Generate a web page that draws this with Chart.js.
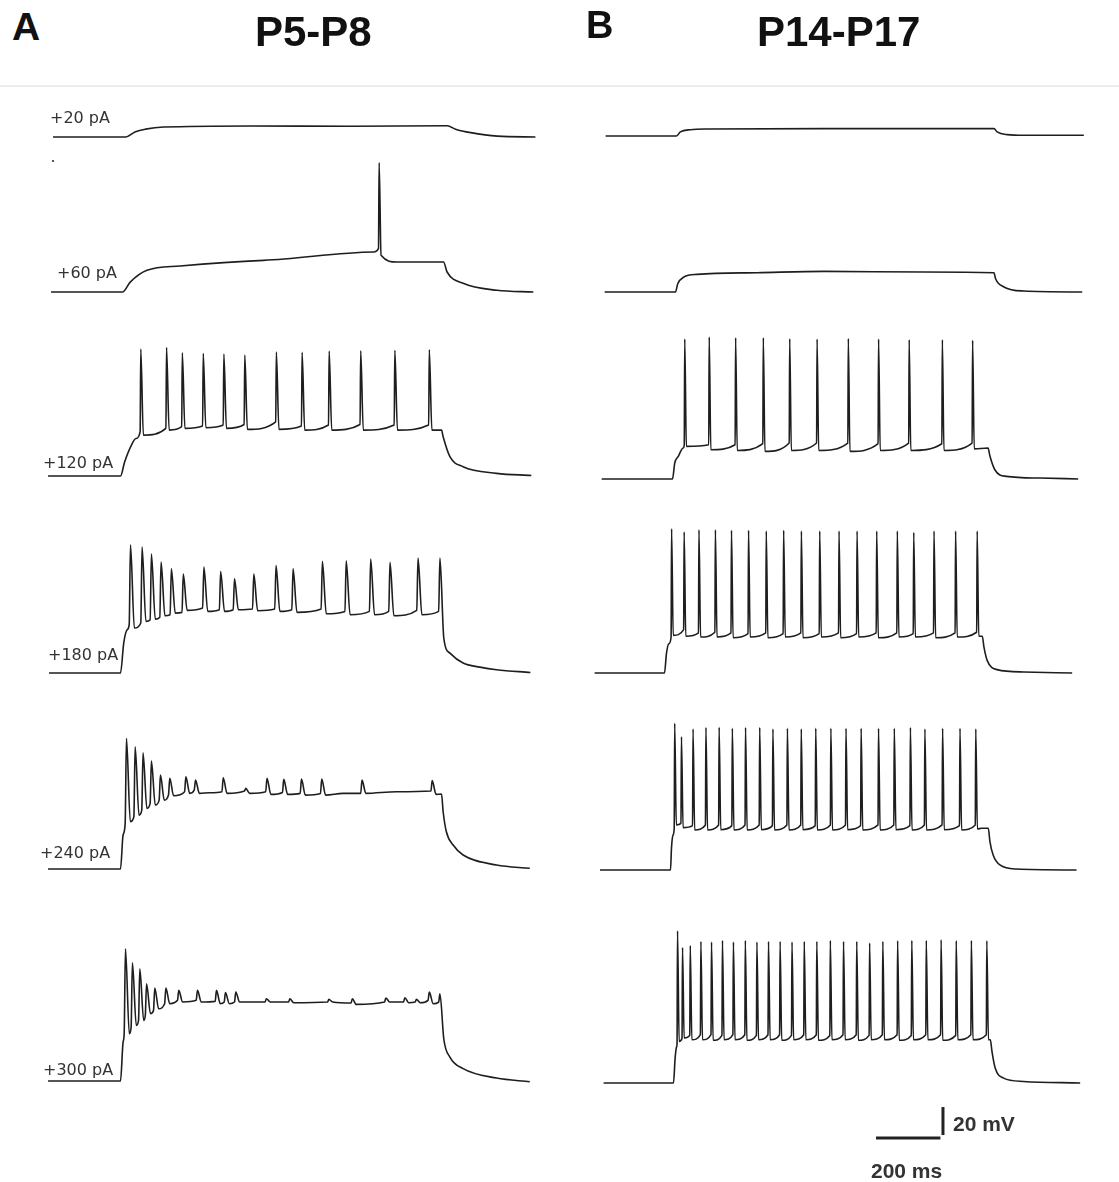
<!DOCTYPE html>
<html>
<head>
<meta charset="utf-8">
<script src="https://cdn.jsdelivr.net/npm/chart.js@4.4.1/dist/chart.umd.min.js"></script>
<style>
  html, body { margin: 0; padding: 0; background: #fff; }
  body { width: 1119px; height: 1182px; position: relative; overflow: hidden; }
  canvas { position: absolute; }
  .title { position: absolute; font-family: "Liberation Sans", Arial, sans-serif; font-weight: bold; color: #111; line-height: 1; white-space: nowrap; }
  .step { position: absolute; font-family: "DejaVu Sans", sans-serif; font-size: 16px; color: #333; line-height: 1; white-space: nowrap; }
  .bar { position: absolute; font-family: "Liberation Sans", Arial, sans-serif; font-weight: bold; font-size: 21px; color: #333; line-height: 1; white-space: nowrap; }
  #rule { position: absolute; left: 0; top: 85px; width: 1119px; height: 2px; background: #ececec; }
  #dot { position: absolute; left: 52px; top: 160px; width: 2px; height: 2px; background: #555; }
</style>
</head>
<body>
<div id="rule"></div>
<div id="dot"></div>
<script>
// Headings
const panelLetters = ["A", "B"];
const ageGroups = ["P5-P8", "P14-P17"];
const stepLabels = ["+20 pA", "+60 pA", "+120 pA", "+180 pA", "+240 pA", "+300 pA"];
const scaleBarMs = 200;
const scaleBarMv = 20;

// ---- P5-P8 (time in ms from step onset, voltage in mV) ----
// +20 pA
const a1Time = [-225, 0, 31, 62, 118, 388, 699, 999, 1025, 1072, 1155, 1273];
const a1Volt = [-65, -65, -61.2, -59.4, -57.9, -57.1, -57.3, -57, -59.4, -61.9, -64.4, -65];
// +60 pA
const a2Time = [-222, 0, 24, 76, 179, 438, 780, 852, 997, 1008, 1058, 1163, 1276];
const a2Volt = [-65, -65, -57.9, -49.5, -46.4, -42.4, -36.4, -43.6, -43.6, -50.7, -58.8, -63.8, -65];
const a2SpikeTime = [797];
const a2SpikePeak = [27.4];
const a2SpikeThresh = [-33.8];
const a2SpikeTrough = [-38.8];
// +120 pA
const a3Time = [-225, 0, 13, 34, 48, 997, 1002, 1023, 1064, 1168, 1276];
const a3Volt = [-65, -65, -54.8, -42.9, -38.2, -32.2, -37, -51.2, -58.4, -63.1, -64.6];
const a3SpikeTime = [63, 143, 192, 257, 321, 386, 484, 564, 648, 746, 852, 959];
const a3SpikePeak = [25.6, 26.8, 23.0, 22.5, 22.1, 21.4, 23.5, 23.3, 24.2, 24.4, 24.7, 25.2];
const a3SpikeThresh = [-33.4, -31, -29.8, -29.3, -28.6, -28.2, -26.3, -29.3, -28.6, -28.2, -28.6, -28.6];
const a3SpikeTrough = [-35.8, -32.2, -31, -30.5, -31, -31.7, -31.7, -32.2, -32.2, -32.2, -32.2, -32.2];
// +180 pA
const a4Time = [-222, 0, 10, 21, 1023, 1064, 1116, 1168, 1273];
const a4Volt = [-65, -65, -43.6, -34.1, -50.8, -57.9, -60.8, -62.7, -64.6];
const a4SpikeTime = [31, 67, 96, 126, 158, 195, 259, 311, 354, 414, 483, 536, 627, 701, 777, 837, 924, 992];
const a4SpikePeak = [26.6, 24.9, 19.9, 14.2, 9.5, 5.6, 10.6, 7.5, 2.3, 5.6, 11.8, 9.5, 14.7, 15.2, 16.4, 14, 17.1, 17.1];
const a4SpikeThresh = [-30.5, -29.3, -27, -25.1, -23.4, -21.7, -18.6, -19.8, -19.8, -19.3, -19.3, -19.8, -19.3, -21, -21, -21, -20.3, -21];
const a4SpikeTrough = [-32.9, -28.2, -26.5, -24.1, -22.2, -20.3, -21, -21, -19.8, -20.5, -21, -21.7, -22.7, -23.4, -23.4, -24.1, -23.4, -40];
// +240 pA
const a5Time = [-225, 0, 8, 277, 691, 857, 997, 1002, 1012, 1033, 1064, 1168, 1271];
const a5Volt = [-65, -65, -40.7, -10.5, -11, -9.8, -11.5, -24.1, -38.4, -47.9, -55, -62.2, -64.5];
const a5SpikeTime = [18.5, 45.5, 70, 96, 124, 153, 203, 233, 319, 389, 455, 507, 562, 625, 750, 968];
const a5SpikePeak = [28.3, 22.3, 18, 12.1, 2.1, -0.3, 0.9, -1.5, 0.2, -7.4, -0.3, -1, -0.8, -0.8, -1.5, -1.9];
const a5SpikeThresh = [-32.4, -27.7, -22.9, -18.1, -15.8, -12.2, -9.8, -8.6, -9.8, -9.3, -9.8, -10.3, -11, -11, -11, -9.3];
const a5SpikeTrough = [-31.2, -26.5, -21.7, -19.3, -15.8, -12.7, -11, -11, -11, -11, -11.7, -11.7, -12.2, -12.2, -11, -11.7];
// +300 pA
const a6Time = [-225, 0, 8, 1023, 1064, 1168, 1271];
const a6Volt = [-65, -65, -37.2, -47.9, -56.2, -62.9, -65.5];
const a6SpikeTime = [15.4, 37, 60, 81, 106.5, 141, 181, 239, 298, 326, 358, 453, 526, 647, 720, 824, 883, 919, 959, 992];
const a6SpikePeak = [29.5, 19.5, 15.2, 4.5, 1.4, 1.4, -0.3, -0.3, -0.3, -1.9, -1.5, -6.2, -6.2, -6.7, -6.2, -5.7, -5.5, -6.7, -1.5, -2.7];
const a6SpikeThresh = [-31.2, -26.5, -21.7, -18.1, -14.6, -9.8, -7.4, -7.4, -8.1, -8.6, -8.6, -8.6, -8.6, -8.6, -9.3, -8.6, -8.6, -8.6, -7.4, -8.6];
const a6SpikeTrough = [-31.2, -25.3, -21.7, -16.9, -13.4, -9.8, -8.6, -8.6, -9.8, -9.8, -8.6, -8.6, -9.1, -8.6, -10.3, -8.6, -9.1, -9.1, -9.8, -35];

// ---- P14-P17 ----
// +20 pA
const b1Time = [-220, 0, 12, 43, 95, 458, 986, 996, 1027, 1079, 1265];
const b1Volt = [-65, -65, -62.1, -60.5, -60, -59.7, -59.7, -62.1, -64, -64.5, -64.5];
// +60 pA
const b2Time = [-220, 0, 7, 26, 67, 254, 461, 771, 989, 994, 1020, 1082, 1263];
const b2Volt = [-65, -65, -59.1, -54.3, -52.4, -51.2, -50.3, -50.7, -51.2, -55.5, -61.4, -64.3, -65];
// +120 pA
const b3Time = [-220, 0, 7, 18, 33, 980, 986, 1001, 1037, 1141, 1260];
const b3Volt = [-65, -65, -53.6, -48.8, -42.9, -42.9, -48.8, -58.4, -63.1, -64.3, -65];
const b3SpikeTime = [38, 114, 196, 282, 364, 449, 546, 640, 735, 838, 932];
const b3SpikePeak = [34.9, 36.4, 35.9, 35.9, 35.2, 34.9, 35.4, 34.9, 34.5, 34.5, 34.0];
const b3SpikeThresh = [-41, -40.5, -40.5, -39.8, -39.3, -39.3, -39.3, -39.8, -39.3, -39.8, -39.3];
const b3SpikeTrough = [-41.7, -44.1, -44.6, -45.3, -44.6, -44.6, -45.3, -44.6, -44.6, -44.6, -43.5];
// +180 pA
const b4Time = [-217, 0, 6, 13.5, 987, 992, 1002, 1033, 1116, 1266];
const b4Volt = [-65, -65, -51.2, -44.1, -38.8, -46.4, -56, -62.6, -64.3, -65];
const b4SpikeTime = [22, 61, 107, 158, 208, 261, 316, 370, 425, 482, 542, 598, 659, 723, 774, 837, 904, 971];
const b4SpikePeak = [38, 35.7, 37.3, 37.3, 36.9, 36.9, 36.4, 36.9, 36.4, 36.4, 36.4, 36.4, 36.4, 36.4, 35.4, 36.4, 36.4, 36.4];
const b4SpikeThresh = [-39.3, -34, -36.4, -35.9, -36.4, -36.9, -36.4, -36.9, -36.4, -36.9, -36.4, -36.9, -36.4, -36.4, -36.9, -36.4, -36.4, -35.9];
const b4SpikeTrough = [-38.1, -38.8, -39.3, -39.3, -39.8, -39.3, -39.8, -39.3, -39.8, -39.3, -39.8, -39.3, -39.8, -39.3, -39.3, -39.8, -39.3, -38.8];
// +240 pA
const b5Time = [-219, 0, 3, 8, 966, 987, 992, 1002, 1023, 1075, 1261];
const b5Volt = [-65, -65, -49.5, -40, -35.2, -35.2, -44.7, -54.3, -61.4, -64.3, -65];
const b5SpikeTime = [13, 34, 70, 110, 151, 192, 233, 277, 318, 363, 406, 451, 498, 545, 592, 646, 695, 745, 790, 845, 899, 948];
const b5SpikePeak = [39.8, 30.2, 35.7, 36.7, 36.9, 36.2, 36.7, 36.7, 35.7, 36.2, 35.7, 36.2, 36.2, 36.2, 36.2, 36.2, 36.2, 36.7, 35.7, 36.2, 36.2, 35.7];
const b5SpikeThresh = [-35.2, -31.7, -33.3, -32.8, -32.8, -33.3, -32.8, -32.8, -33.3, -32.8, -32.8, -33.3, -32.8, -32.8, -33.3, -32.8, -32.8, -33.3, -32.8, -32.8, -33.3, -32.8];
const b5SpikeTrough = [-32.8, -34.7, -36.4, -36.4, -36.2, -36.4, -36.4, -36.2, -36.4, -36.4, -36.2, -36.4, -36.4, -36.2, -36.4, -36.4, -36.2, -36.4, -36.4, -36.2, -36.4, -35.7];
// +300 pA
const b6Time = [-217, 0, 5, 10, 984, 989, 999, 1025, 1087, 1263];
const b6Volt = [-65, -65, -47.2, -38.9, -34.1, -42.4, -54.3, -61.5, -63.9, -65];
const b6SpikeTime = [12.5, 28, 52, 85, 118, 152, 186, 223, 259, 295, 331, 368, 406, 445, 487, 528, 569, 609, 650, 696, 740, 785, 831, 878, 925, 973];
const b6SpikePeak = [43.7, 31.8, 33.2, 36.1, 35.6, 36.8, 35.6, 36.8, 35.6, 36.1, 36.1, 35.6, 36.1, 36.1, 36.8, 36.1, 36.1, 34.9, 36.1, 36.6, 36.8, 36.8, 37.3, 36.6, 36.8, 36.6];
const b6SpikeThresh = [-37, -33, -31, -30.5, -30.5, -31, -30.5, -30.5, -31, -30.5, -30.5, -31, -30.5, -30.5, -31, -30.5, -30.5, -31, -30.5, -30.5, -31, -30.5, -30.5, -31, -30.5, -30.5];
const b6SpikeTrough = [-35.3, -32.9, -34.1, -34.1, -34.5, -34.1, -34.1, -34.5, -34.1, -34.1, -34.5, -34.1, -34.1, -34.5, -34.1, -34.1, -34.5, -34.1, -34.1, -34.5, -34.1, -34.1, -34.5, -34.1, -34.1, -34.1];

// Layout: where each trace sits on the page (step onset x, resting level y)
const PX_PER_MS = 0.322;
const PX_PER_MV = 1.4;
const X_MIN = -250;
const V_TOP = 50;
const V_REST = -65;
const CANVAS_W = 560;
const CANVAS_H = 182;

const traces = [
  { time: a1Time, volt: a1Volt, onsetPx: 125, basePx: 137.3 },
  { time: a2Time, volt: a2Volt, spikeTime: a2SpikeTime, peak: a2SpikePeak, thresh: a2SpikeThresh, trough: a2SpikeTrough, rise: 2, fall: 6, onsetPx: 122.3, basePx: 291.7 },
  { time: a3Time, volt: a3Volt, spikeTime: a3SpikeTime, peak: a3SpikePeak, thresh: a3SpikeThresh, trough: a3SpikeTrough, rise: 2, fall: 8, onsetPx: 120.7, basePx: 476 },
  { time: a4Time, volt: a4Volt, spikeTime: a4SpikeTime, peak: a4SpikePeak, thresh: a4SpikeThresh, trough: a4SpikeTrough, rise: 4, fall: 12, onsetPx: 120, basePx: 673.3 },
  { time: a5Time, volt: a5Volt, spikeTime: a5SpikeTime, peak: a5SpikePeak, thresh: a5SpikeThresh, trough: a5SpikeTrough, rise: 4, fall: 12, onsetPx: 120.7, basePx: 869 },
  { time: a6Time, volt: a6Volt, spikeTime: a6SpikeTime, peak: a6SpikePeak, thresh: a6SpikeThresh, trough: a6SpikeTrough, rise: 4, fall: 12, onsetPx: 120.7, basePx: 1080.7 },
  { time: b1Time, volt: b1Volt, onsetPx: 676, basePx: 135.7 },
  { time: b2Time, volt: b2Volt, onsetPx: 675, basePx: 291.7 },
  { time: b3Time, volt: b3Volt, spikeTime: b3SpikeTime, peak: b3SpikePeak, thresh: b3SpikeThresh, trough: b3SpikeTrough, rise: 1.5, fall: 5, onsetPx: 672.7, basePx: 479.3 },
  { time: b4Time, volt: b4Volt, spikeTime: b4SpikeTime, peak: b4SpikePeak, thresh: b4SpikeThresh, trough: b4SpikeTrough, rise: 1.5, fall: 5, onsetPx: 664, basePx: 672.7 },
  { time: b5Time, volt: b5Volt, spikeTime: b5SpikeTime, peak: b5SpikePeak, thresh: b5SpikeThresh, trough: b5SpikeTrough, rise: 1.5, fall: 5, onsetPx: 670.7, basePx: 870 },
  { time: b6Time, volt: b6Volt, spikeTime: b6SpikeTime, peak: b6SpikePeak, thresh: b6SpikeThresh, trough: b6SpikeTrough, rise: 1.5, fall: 5, onsetPx: 673.3, basePx: 1083.3 }
];

// merge the subthreshold points with the spike points, in time order
function buildPoints(tr) {
  const pts = tr.time.map((t, i) => ({ x: t, y: tr.volt[i] }));
  (tr.spikeTime || []).forEach((t, i) => {
    pts.push({ x: t - tr.rise, y: tr.thresh[i] });
    pts.push({ x: t, y: tr.peak[i] });
    pts.push({ x: t + tr.fall, y: tr.trough[i] });
  });
  return pts.sort((a, b) => a.x - b.x);
}

function baseOptions(xMin, xMax, yMin, yMax) {
  return {
    responsive: false,
    animation: false,
    events: [],
    layout: { padding: 0 },
    plugins: { legend: { display: false }, tooltip: { enabled: false } },
    scales: {
      x: { type: 'linear', display: false, min: xMin, max: xMax },
      y: { type: 'linear', display: false, min: yMin, max: yMax }
    }
  };
}

function addCanvas(left, top, w, h) {
  const c = document.createElement('canvas');
  c.width = w;
  c.height = h;
  c.style.left = left + 'px';
  c.style.top = top + 'px';
  c.style.width = w + 'px';
  c.style.height = h + 'px';
  document.body.appendChild(c);
  return c;
}

// Draw every trace
traces.forEach(tr => {
  const left = tr.onsetPx + X_MIN * PX_PER_MS;
  const top = tr.basePx - (V_TOP - V_REST) * PX_PER_MV;
  const canvas = addCanvas(left, top, CANVAS_W, CANVAS_H);
  new Chart(canvas.getContext('2d'), {
    type: 'line',
    data: {
      datasets: [{
        data: buildPoints(tr),
        borderColor: '#1e1e1e',
        borderWidth: 1.6,
        pointRadius: 0,
        fill: false,
        cubicInterpolationMode: 'monotone'
      }]
    },
    options: baseOptions(X_MIN, X_MIN + CANVAS_W / PX_PER_MS, V_TOP - CANVAS_H / PX_PER_MV, V_TOP)
  });
});

// Scale bar
(function drawScaleBar() {
  const left = 866, top = 1100, w = 90, h = 45;
  const zeroX = 876, zeroY = 1138;
  const xMin = (left - zeroX) / PX_PER_MS;
  const yMax = (zeroY - top) / PX_PER_MV;
  const gapMs = 8, gapMv = 2.1;
  const canvas = addCanvas(left, top, w, h);
  new Chart(canvas.getContext('2d'), {
    type: 'line',
    data: {
      datasets: [
        { data: [{ x: 0, y: 0 }, { x: scaleBarMs, y: 0 }], borderColor: '#222', borderWidth: 3, pointRadius: 0 },
        { data: [{ x: scaleBarMs + gapMs, y: gapMv }, { x: scaleBarMs + gapMs, y: gapMv + scaleBarMv }], borderColor: '#222', borderWidth: 3, pointRadius: 0 }
      ]
    },
    options: baseOptions(xMin, xMin + w / PX_PER_MS, yMax - h / PX_PER_MV, yMax)
  });
})();

// Text
function addText(cls, text, left, top, size) {
  const d = document.createElement('div');
  d.className = cls;
  d.textContent = text;
  d.style.left = left + 'px';
  d.style.top = top + 'px';
  if (size) d.style.fontSize = size + 'px';
  document.body.appendChild(d);
}

addText('title', panelLetters[0], 12, 7, 39);
addText('title', ageGroups[0], 255, 11, 42);
addText('title', panelLetters[1], 586, 6, 38);
addText('title', ageGroups[1], 757, 11, 42);

const labelSpots = [[50, 118], [57, 273], [43, 463], [48, 655], [40, 853], [43, 1070]];
stepLabels.forEach((s, i) => addText('step', s, labelSpots[i][0], labelSpots[i][1] - 8));

addText('bar', scaleBarMv + ' mV', 953, 1113);
addText('bar', scaleBarMs + ' ms', 871, 1160);
</script>
</body>
</html>
